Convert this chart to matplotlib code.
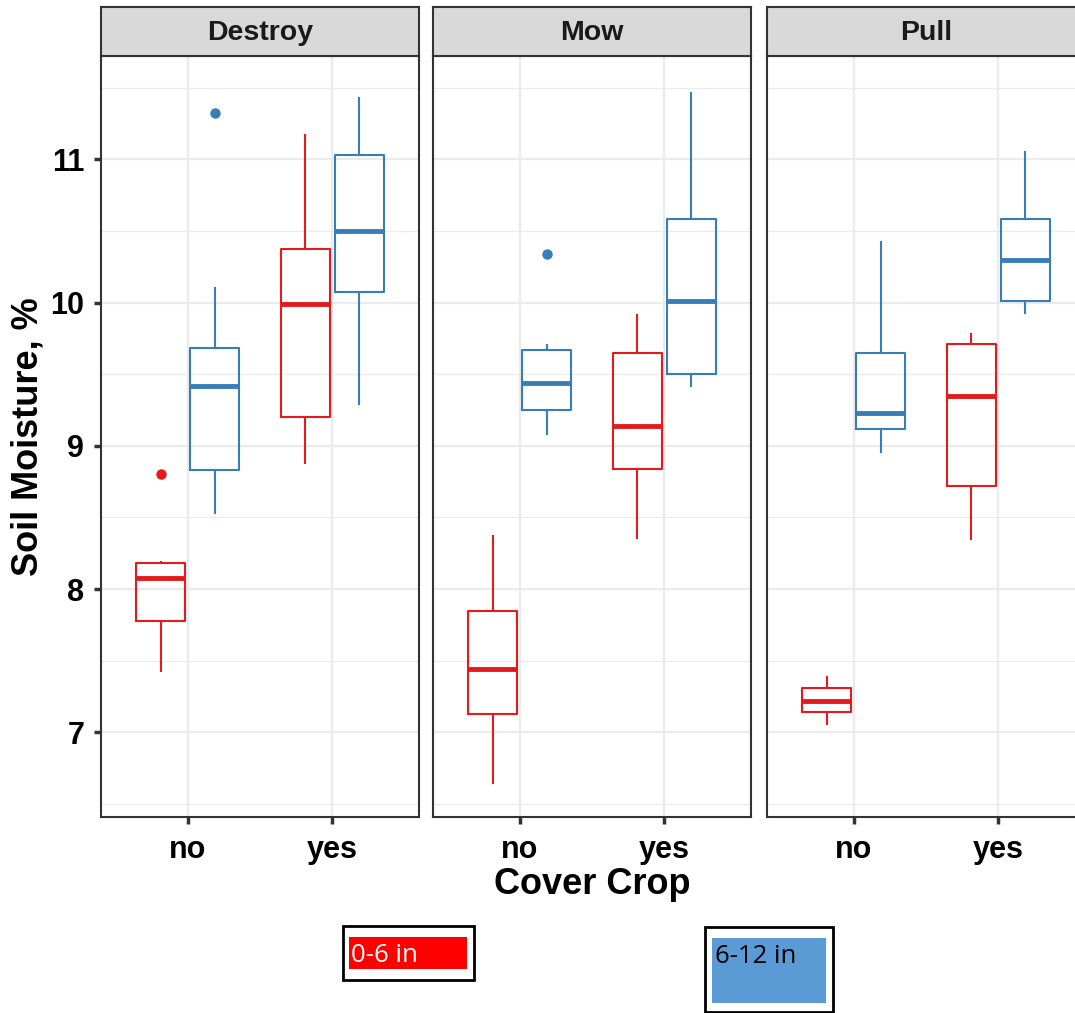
import matplotlib
matplotlib.use("Agg")
import matplotlib.pyplot as plt
from matplotlib.patches import Rectangle
from matplotlib.ticker import MultipleLocator

# ---- data -------------------------------------------------------------
treatments = ["Destroy", "Mow", "Pull"]
cover_crop = ["no", "yes"]
depths = ["0-6 in", "6-12 in"]
depth_colors = ["#E41A1C", "#377EB8"]

# box statistics per treatment: [no, yes] for each depth
whislo = {
    "Destroy": {"0-6 in": [7.43, 8.88], "6-12 in": [8.53, 9.29]},
    "Mow":     {"0-6 in": [6.65, 8.36], "6-12 in": [9.08, 9.42]},
    "Pull":    {"0-6 in": [7.06, 8.35], "6-12 in": [8.96, 9.93]},
}
q1 = {
    "Destroy": {"0-6 in": [7.78, 9.20], "6-12 in": [8.83, 10.07]},
    "Mow":     {"0-6 in": [7.13, 8.84], "6-12 in": [9.25, 9.50]},
    "Pull":    {"0-6 in": [7.14, 8.72], "6-12 in": [9.12, 10.01]},
}
median = {
    "Destroy": {"0-6 in": [8.08, 9.99], "6-12 in": [9.42, 10.50]},
    "Mow":     {"0-6 in": [7.44, 9.14], "6-12 in": [9.44, 10.01]},
    "Pull":    {"0-6 in": [7.22, 9.35], "6-12 in": [9.23, 10.30]},
}
q3 = {
    "Destroy": {"0-6 in": [8.18, 10.37], "6-12 in": [9.68, 11.03]},
    "Mow":     {"0-6 in": [7.85, 9.65], "6-12 in": [9.67, 10.58]},
    "Pull":    {"0-6 in": [7.31, 9.71], "6-12 in": [9.65, 10.58]},
}
whishi = {
    "Destroy": {"0-6 in": [8.19, 11.17], "6-12 in": [10.10, 11.43]},
    "Mow":     {"0-6 in": [8.37, 9.91], "6-12 in": [9.70, 11.46]},
    "Pull":    {"0-6 in": [7.39, 9.78], "6-12 in": [10.42, 11.05]},
}
outliers = {
    "Destroy": {"0-6 in": [[8.80], []], "6-12 in": [[11.32], []]},
    "Mow":     {"0-6 in": [[], []], "6-12 in": [[10.34], []]},
    "Pull":    {"0-6 in": [[], []], "6-12 in": [[], []]},
}

y_ticks = [7, 8, 9, 10, 11]

# ---- figure -----------------------------------------------------------
W, H = 1075, 1013
fig = plt.figure(figsize=(W / 100, H / 100), dpi=100)
plt.rcParams["font.family"] = ["Liberation Sans", "DejaVu Sans"]


def fx(px):
    return px / W


def fy(py):
    return 1 - py / H


panel_left = [101, 433, 767]
panel_w = 318
top_px, bottom_px = 56, 817
strip_top = 7

dodge = 0.1875
box_w = 0.34

for i, trt in enumerate(treatments):
    ax = fig.add_axes([fx(panel_left[i]), fy(bottom_px), panel_w / W, (bottom_px - top_px) / H])
    ax.set_xlim(0.4, 2.6)
    ax.set_ylim(6.41, 11.72)
    ax.yaxis.set_major_locator(MultipleLocator(1))
    ax.yaxis.set_minor_locator(MultipleLocator(0.5))
    ax.set_xticks([1, 2])
    ax.set_xticklabels(cover_crop)
    ax.set_axisbelow(True)
    ax.grid(which="major", color="#EBEBEB", lw=1.6)
    ax.grid(which="minor", axis="y", color="#EBEBEB", lw=0.9)
    for s in ax.spines.values():
        s.set_color("#333333")
        s.set_linewidth(1.5)
    ax.tick_params(axis="both", which="major", length=5, width=2.5, color="#333333",
                   labelsize=22)
    ax.tick_params(axis="x", which="major", pad=8)
    ax.tick_params(axis="y", which="major", pad=7)
    ax.tick_params(axis="y", which="minor", length=0)
    for lab in ax.get_xticklabels() + ax.get_yticklabels():
        lab.set_fontweight("bold")
        lab.set_color("black")
    if i == 0:
        ax.set_yticks(y_ticks)
    else:
        ax.tick_params(axis="y", which="both", left=False, labelleft=False)

    for d, (dep, col) in enumerate(zip(depths, depth_colors)):
        stats = []
        for c in range(len(cover_crop)):
            stats.append({
                "whislo": whislo[trt][dep][c],
                "q1": q1[trt][dep][c],
                "med": median[trt][dep][c],
                "q3": q3[trt][dep][c],
                "whishi": whishi[trt][dep][c],
                "fliers": outliers[trt][dep][c],
            })
        off = -dodge if d == 0 else dodge
        pos = [c + 1 + off for c in range(len(cover_crop))]
        ax.bxp(stats, positions=pos, widths=box_w, showcaps=False, manage_ticks=False,
               boxprops=dict(color=col, lw=1.5),
               whiskerprops=dict(color=col, lw=1.5),
               medianprops=dict(color=col, lw=3.5, solid_capstyle="butt"),
               flierprops=dict(marker="o", markerfacecolor=col, markeredgecolor=col,
                               markersize=6.5))

    # facet strip
    sax = fig.add_axes([fx(panel_left[i]), fy(top_px), panel_w / W, (top_px - strip_top) / H])
    sax.set_facecolor("#D9D9D9")
    sax.set_xticks([])
    sax.set_yticks([])
    for s in sax.spines.values():
        s.set_color("#333333")
        s.set_linewidth(1.5)
    sax.text(0.5, 0.47, trt, ha="center", va="center", fontsize=20.5, fontweight="bold",
             color="#1A1A1A", transform=sax.transAxes)

# axis titles
fig.text(fx(592), fy(884), "Cover Crop", ha="center", va="center", fontsize=26,
         fontweight="bold")
fig.text(fx(28), fy(437), "Soil Moisture, %", ha="center", va="center", fontsize=26,
         fontweight="bold", rotation=90)

# depth key boxes below the panels
key_font = ["Open Sans", "DejaVu Sans"]
fig.add_artist(Rectangle((fx(343), fy(980)), (474 - 343) / W, (980 - 926) / H,
                         transform=fig.transFigure, facecolor="white",
                         edgecolor="black", lw=2))
fig.add_artist(Rectangle((fx(349), fy(969)), (467 - 349) / W, (969 - 937) / H,
                         transform=fig.transFigure, facecolor="#FF0000", edgecolor="none"))
fig.text(fx(351), fy(955), depths[0], ha="left", va="center", fontsize=18.5,
         color="white", family=key_font)

fig.add_artist(Rectangle((fx(705), fy(1012)), (833 - 705) / W, (1012 - 927) / H,
                         transform=fig.transFigure, facecolor="white",
                         edgecolor="black", lw=2))
fig.add_artist(Rectangle((fx(712), fy(1003)), (826 - 712) / W, (1003 - 938) / H,
                         transform=fig.transFigure, facecolor="#5B9BD5", edgecolor="none"))
fig.text(fx(715), fy(956), depths[1], ha="left", va="center", fontsize=18.5,
         color="black", family=key_font)

fig.savefig("out.png", dpi=100)
